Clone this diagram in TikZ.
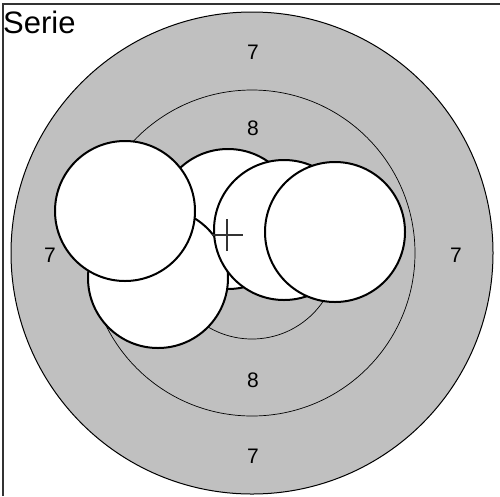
\documentclass[tikz,border=0pt]{standalone}
\usepackage{fontspec}
\setmainfont{Liberation Sans}
\usetikzlibrary{positioning}
\definecolor{ringgray}{RGB}{192,192,192}
\tikzset{
  shot/.style={draw=black, fill=white, line width=2pt},
  ringline/.style={draw=black, line width=0.7pt},
  ringlabel/.style={font=\fontsize{21}{25}\selectfont, inner sep=0pt},
}

\begin{document}
\begin{tikzpicture}[x=1pt,y=-1pt]
    \useasboundingbox (0,0) rectangle (500,496);
    % frame and title
    \draw[line width=1.5pt, black!80] (3,496) -- (3,4) -- (500,4);
    \node[anchor=base west, inner sep=0pt, font=\fontsize{31}{36}\selectfont] (title) at (3,33) {Serie};
    % target rings
    \fill[ringgray] (252,253) circle (241);
    \draw[line width=1pt] (252,253) circle (241);
    \draw[ringline] (252,253) circle (163);
    \draw[ringline] (252,253) circle (86);
    % ring numbers
    \node[ringlabel] (seventop) at (253,52) {7};
    \node[ringlabel] (eighttop) at (253,128) {8};
    \node[ringlabel] (sevenleft) at (50,255) {7};
    \node[ringlabel] (sevenright) at (456,255) {7};
    \node[ringlabel] (eightbottom) at (253,380) {8};
    \node[ringlabel] (sevenbottom) at (253,456) {7};
    % hits, back to front
    \foreach \x/\y in {228/219, 158/278, 125/211, 284/230, 335/232} {
        \draw[shot] (\x,\y) circle (70);
    }
    % mean point of impact
    \draw[line width=1.3pt, black!80] (212,235) -- (243,235) (227,219) -- (227,251);
\end{tikzpicture}
\end{document}
